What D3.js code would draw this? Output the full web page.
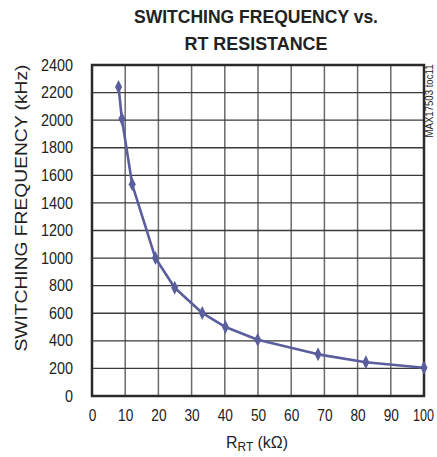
<!DOCTYPE html>
<html>
<head>
<meta charset="utf-8">
<script src="https://cdn.jsdelivr.net/npm/d3@7"></script>
<style>
	body { margin: 0; background: #fff; }
	svg text { font-family: "Liberation Sans Narrow", "Arial Narrow", "Liberation Sans", Arial, sans-serif; fill: #222; }
</style>
</head>
<body>
<div id="chart"></div>
<script>

// RT resistance (kOhm) vs switching frequency (kHz)
let rt = [8, 9, 12.1, 19.1, 24.9, 33.2, 40.2, 49.9, 68.1, 82.5, 100]
let freq = [2240, 2010, 1535, 1000, 785, 602, 500, 408, 302, 245, 205]

let xTicks = [0, 10, 20, 30, 40, 50, 60, 70, 80, 90, 100]
let yTicks = [0, 200, 400, 600, 800, 1000, 1200, 1400, 1600, 1800, 2000, 2200, 2400]

let titleLines = ['SWITCHING FREQUENCY vs.', 'RT RESISTANCE']
let yLabel = 'SWITCHING FREQUENCY (kHz)'
let tocNote = 'MAX17503 toc11'

let width = 437
let height = 457
let margin = {left:92, right:13, top:65, bottom:61}

let svg = d3.select('#chart').append('svg')
	.attr('width', width).attr('height', height)

let x = d3.scaleLinear().domain([0, 100]).range([margin.left, width-margin.right])
let y = d3.scaleLinear().domain([0, 2400]).range([height-margin.bottom, margin.top])

// narrow look: squeeze text since no condensed font is around
let squeeze = (sel, perChar) => sel
	.attr('textLength', function() { return this.textContent.length * perChar })
	.attr('lengthAdjust', 'spacingAndGlyphs')

// grid
svg.append('g').selectAll('line')
	.data(xTicks)
	.enter().append('line')
	.attr('x1', d => x(d)).attr('x2', d => x(d))
	.attr('y1', y(0)).attr('y2', y(2400))
	.attr('stroke', '#6a6a6a').attr('stroke-width', 1.5)

svg.append('g').selectAll('line')
	.data(yTicks)
	.enter().append('line')
	.attr('x1', x(0)).attr('x2', x(100))
	.attr('y1', d => y(d)).attr('y2', d => y(d))
	.attr('stroke', '#3a3a3a').attr('stroke-width', 1.3)

// frame
svg.append('rect')
	.attr('x', x(0)).attr('y', y(2400))
	.attr('width', x(100)-x(0)).attr('height', y(0)-y(2400))
	.attr('fill', 'none').attr('stroke', '#2a2a2a').attr('stroke-width', 2.5)

// axes (labels only)
let xAxis = d3.axisBottom(x).tickValues(xTicks).tickSize(0).tickPadding(14).tickFormat(d3.format('d'))
let yAxis = d3.axisLeft(y).tickValues(yTicks).tickSize(0).tickPadding(19).tickFormat(d3.format('d'))

svg.append('g').attr('transform', `translate(0,${y(0)})`)
	.call(xAxis)
	.call(g => g.select('.domain').remove())
	.selectAll('text').style('font-size', '16px').attr('fill', '#222')
	.call(squeeze, 7.6)
	.filter(d => d == 100).call(squeeze, 7).attr('dx', -1)

svg.append('g').attr('transform', `translate(${x(0)},0)`)
	.call(yAxis)
	.call(g => g.select('.domain').remove())
	.selectAll('text').style('font-size', '16px').attr('fill', '#222')
	.call(squeeze, 8)

// curve
let line = d3.line().x((d, i) => x(rt[i])).y(d => y(d))

svg.append('path')
	.datum(freq)
	.attr('d', line)
	.attr('fill', 'none')
	.attr('stroke', '#5b5e9d')
	.attr('stroke-width', 2.6)
	.attr('stroke-linejoin', 'round')

svg.append('g').selectAll('path')
	.data(freq)
	.enter().append('path')
	.attr('d', 'M0,-7L3.5,0L0,7L-3.5,0Z')
	.attr('transform', (d, i) => `translate(${x(rt[i])},${y(d)})`)
	.attr('fill', '#5b5e9d')

// titles
let titleWidths = [244, 143]
svg.append('g').selectAll('text')
	.data(titleLines)
	.enter().append('text')
	.attr('x', 256).attr('y', (d, i) => 23 + i*26.5)
	.attr('text-anchor', 'middle')
	.attr('textLength', (d, i) => titleWidths[i]).attr('lengthAdjust', 'spacingAndGlyphs')
	.style('font-size', '19px').style('font-weight', 'bold')
	.text(d => d)

svg.append('text')
	.attr('transform', 'translate(27,208) rotate(-90)')
	.attr('text-anchor', 'middle')
	.attr('textLength', 287).attr('lengthAdjust', 'spacingAndGlyphs')
	.style('font-size', '16.5px')
	.text(yLabel)

let xl = svg.append('text')
	.attr('x', 257).attr('y', 448)
	.attr('text-anchor', 'middle')
	.attr('textLength', 62).attr('lengthAdjust', 'spacingAndGlyphs')
	.style('font-size', '16px')
xl.append('tspan').text('R')
xl.append('tspan').attr('dy', 3).style('font-size', '12px').text('RT')
xl.append('tspan').attr('dy', -3).text(' (kΩ)')

svg.append('text')
	.attr('transform', 'translate(433,101) rotate(-90)')
	.attr('text-anchor', 'middle')
	.attr('textLength', 73).attr('lengthAdjust', 'spacingAndGlyphs')
	.style('font-size', '10px')
	.text(tocNote)

</script>
</body>
</html>
